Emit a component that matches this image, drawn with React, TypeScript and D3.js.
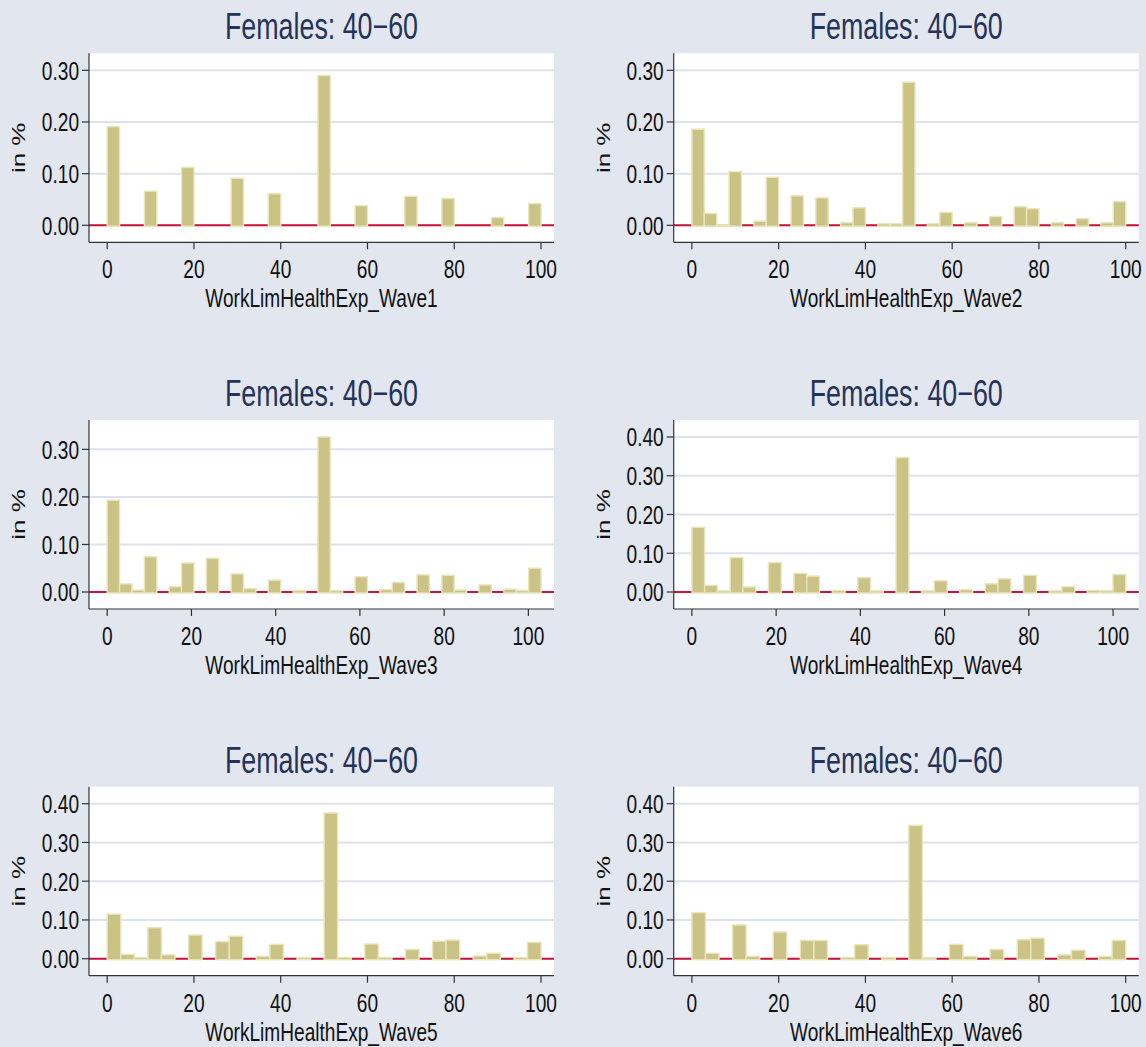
import React from "react";
import * as d3 from "d3";

// Histogram bin heights (fraction of respondents) for each wave, bins of equal width over [0, upper]
const wave1 = [0.191, 0, 0, 0.066, 0, 0, 0.112, 0, 0, 0, 0.091, 0, 0, 0.061, 0, 0, 0, 0.290, 0, 0, 0.038, 0, 0, 0, 0.056, 0, 0, 0.052, 0, 0, 0, 0.015, 0, 0, 0.042];
const wave2 = [0.186, 0.023, 0.001, 0.104, 0, 0.008, 0.093, 0, 0.057, 0, 0.053, 0, 0.005, 0.034, 0, 0.003, 0.003, 0.277, 0, 0.003, 0.025, 0, 0.005, 0, 0.017, 0, 0.036, 0.032, 0, 0.005, 0, 0.013, 0, 0.005, 0.046];
const wave3 = [0.193, 0.017, 0.004, 0.074, 0, 0.011, 0.061, 0, 0.071, 0, 0.038, 0.007, 0, 0.025, 0, 0.003, 0, 0.326, 0.003, 0, 0.032, 0, 0.005, 0.020, 0, 0.036, 0, 0.035, 0.004, 0, 0.015, 0, 0.006, 0.003, 0.050];
const wave4 = [0.167, 0.017, 0.003, 0.089, 0.013, 0, 0.076, 0, 0.048, 0.041, 0, 0.004, 0, 0.037, 0.003, 0, 0.347, 0, 0.003, 0.029, 0, 0.006, 0, 0.021, 0.034, 0, 0.043, 0, 0.003, 0.014, 0, 0.004, 0.003, 0.045];
const wave5 = [0.115, 0.011, 0.003, 0.080, 0.010, 0, 0.061, 0, 0.044, 0.058, 0, 0.006, 0.037, 0, 0.003, 0, 0.376, 0.003, 0, 0.038, 0.003, 0, 0.024, 0, 0.045, 0.048, 0, 0.007, 0.014, 0, 0.003, 0.042];
const wave6 = [0.119, 0.014, 0, 0.087, 0.006, 0, 0.069, 0, 0.047, 0.047, 0, 0.003, 0.036, 0, 0.003, 0, 0.344, 0.002, 0, 0.037, 0.006, 0, 0.024, 0, 0.049, 0.053, 0, 0.010, 0.022, 0, 0.006, 0.047];

const waves = [wave1, wave2, wave3, wave4, wave5, wave6];
const waveUpper = [100, 100, 103, 103, 100, 100];
const xTicks = [0, 20, 40, 60, 80, 100];
const yTicksLow = [0, 0.1, 0.2, 0.3];
const yTicksHigh = [0, 0.1, 0.2, 0.3, 0.4];
const panelYTicks = [yTicksLow, yTicksLow, yTicksLow, yTicksHigh, yTicksHigh, yTicksHigh];
const xTitles = [
  "WorkLimHealthExp_Wave1",
  "WorkLimHealthExp_Wave2",
  "WorkLimHealthExp_Wave3",
  "WorkLimHealthExp_Wave4",
  "WorkLimHealthExp_Wave5",
  "WorkLimHealthExp_Wave6",
];
const panelTitle = "Females: 40\u221260";
const yTitle = "in %";

const W = 1146;
const H = 1047;
const colLeft = [89, 673.7];
const rowTop = [53.3, 420, 786.7];
const plotW = 465;
const plotH = 189;
const padV = 17;
const padL = 18.2;
const padR = 13;
const SX = 0.735; // horizontal condensing of all lettering

const BG = "#e1e6ef";
const GRID = "#dde2ec";
const FILL = "#cbc385";
const EDGE = "#e9e6bc";
const ZERO = "#c8143c";
const TITLE = "#263359";
const FONT = "'Liberation Sans', Arial, sans-serif";

function Txt({ x, y, size, anchor = "middle", fill = "#111", rotate = 0, children }: any) {
  const t = `translate(${x},${y}) scale(${SX},1)` + (rotate ? ` rotate(${rotate})` : "");
  return (
    <text transform={t} fontSize={size} textAnchor={anchor} fill={fill} fontFamily={FONT}>
      {children}
    </text>
  );
}

function Panel({ idx }: { idx: number }) {
  const values = waves[idx];
  const left = colLeft[idx % 2];
  const top = rowTop[Math.floor(idx / 2)];
  const right = left + plotW;
  const bottom = top + plotH;
  const upper = waveUpper[idx];
  const ticks = panelYTicks[idx];
  const yMax = Math.max(ticks[ticks.length - 1], d3.max(values) as number);

  const x = d3.scaleLinear().domain([0, upper]).range([left + padL, right - padR]);
  const y = d3.scaleLinear().domain([0, yMax]).range([bottom - padV, top + padV]);
  const binW = upper / values.length;
  const fmt = d3.format(".2f");
  const cx = (left + right) / 2;
  const cy = (top + bottom) / 2;

  return (
    <g>
      <rect x={left} y={top} width={plotW} height={plotH} fill="#fff" />
      {ticks.map((t) => (
        <line key={"g" + t} x1={left} x2={right} y1={y(t)} y2={y(t)} stroke={GRID} strokeWidth={2} />
      ))}
      <line x1={left} x2={right} y1={y(0)} y2={y(0)} stroke={ZERO} strokeWidth={2} />
      {values.map((v, i) =>
        v > 0 ? (
          <rect
            key={"b" + i}
            x={x(i * binW)}
            y={y(v)}
            width={x((i + 1) * binW) - x(i * binW)}
            height={y(0) - y(v) + 1}
            fill={FILL}
            stroke={EDGE}
            strokeWidth={1.4}
          />
        ) : null
      )}
      {/* axes */}
      <line x1={left} x2={left} y1={top} y2={bottom} stroke="#333" strokeWidth={1.2} />
      <line x1={left} x2={right} y1={bottom} y2={bottom} stroke="#333" strokeWidth={1.2} />
      {ticks.map((t) => (
        <g key={"yt" + t}>
          <line x1={left - 7} x2={left} y1={y(t)} y2={y(t)} stroke="#333" strokeWidth={1.2} />
          <Txt x={left - 10} y={y(t) + 9.4} size={26} anchor="end">
            {fmt(t)}
          </Txt>
        </g>
      ))}
      {xTicks.map((t) => (
        <g key={"xt" + t}>
          <line x1={x(t)} x2={x(t)} y1={bottom} y2={bottom + 7} stroke="#333" strokeWidth={1.2} />
          <Txt x={x(t)} y={bottom + 36} size={26}>
            {t}
          </Txt>
        </g>
      ))}
      <Txt x={cx} y={bottom + 65} size={26}>
        {xTitles[idx]}
      </Txt>
      <Txt x={left - 64} y={cy} size={26} rotate={-90}>
        {yTitle}
      </Txt>
      <Txt x={cx} y={top - 14} size={36.5} fill={TITLE}>
        {panelTitle}
      </Txt>
    </g>
  );
}

export default function App() {
  return (
    <svg
      width={W}
      height={H}
      style={{ position: "absolute", left: 0, top: 0, display: "block" }}
      xmlns="http://www.w3.org/2000/svg"
    >
      <rect width={W} height={H} fill={BG} />
      {waves.map((_, i) => (
        <Panel key={i} idx={i} />
      ))}
    </svg>
  );
}
